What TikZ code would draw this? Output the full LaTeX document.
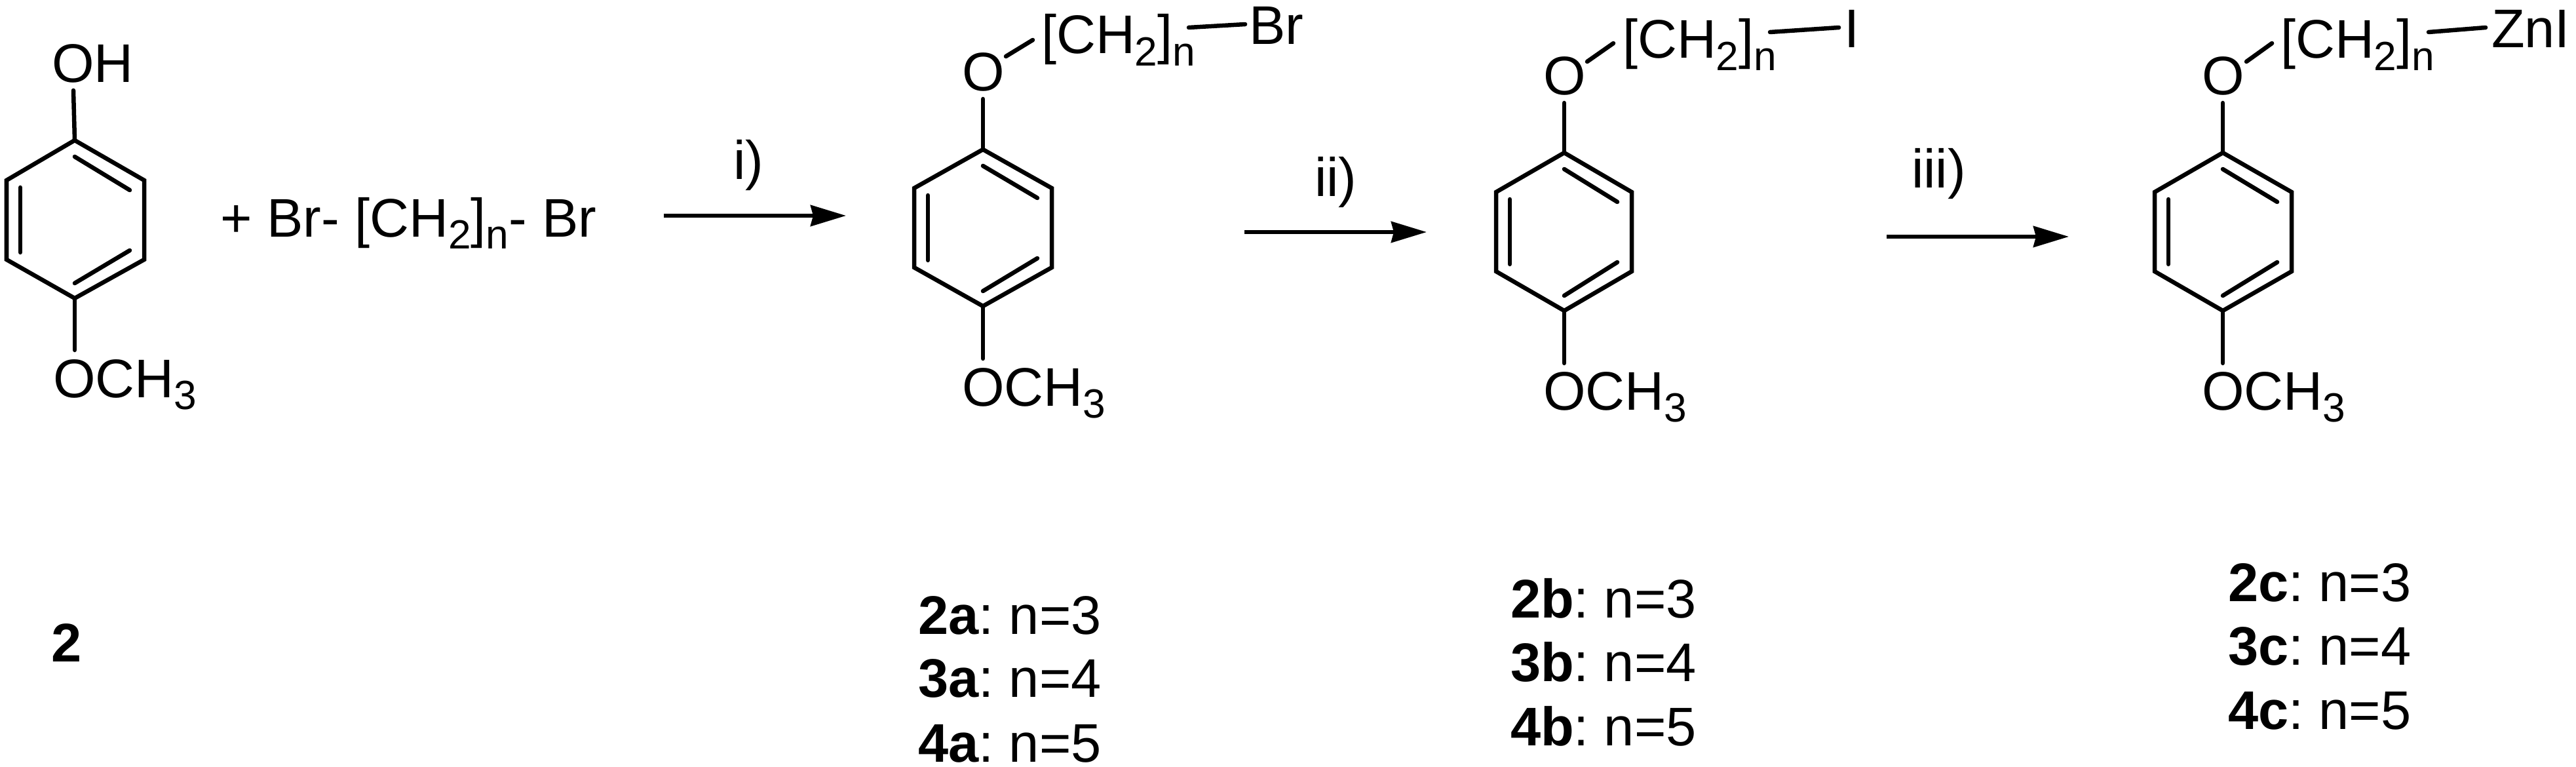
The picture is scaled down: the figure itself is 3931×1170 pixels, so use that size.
\documentclass[tikz,border=0pt]{standalone}
\usepackage{fontspec}
\setmainfont{Liberation Sans}
\frenchspacing
\usetikzlibrary{arrows.meta}
\newcommand{\sbs}[1]{\raisebox{-0.18cm}{\fontsize{17.7}{20}\selectfont #1}}
\newcommand{\chain}{[CH\sbs{2}]\sbs{n}}
\newcommand{\lab}[2]{\textbf{#1}: n=#2}
% prefix, xc, xl, xr, ytop, yu, yl, ybot
\newcommand{\benzene}[8]{%
  \coordinate (#1t) at (#2,#5);
  \coordinate (#1ur) at (#4,#6);
  \coordinate (#1lr) at (#4,#7);
  \coordinate (#1b) at (#2,#8);
  \coordinate (#1ll) at (#3,#7);
  \coordinate (#1ul) at (#3,#6);
  \coordinate (#1ia) at (#2,\the\numexpr#5+25\relax);
  \coordinate (#1ib) at (\the\numexpr#4-22\relax,\the\numexpr#6+15\relax);
  \coordinate (#1ic) at (\the\numexpr#4-22\relax,\the\numexpr#7-14\relax);
  \coordinate (#1id) at (#2,\the\numexpr#8-23\relax);
  \coordinate (#1ie) at (\the\numexpr#3+21\relax,\the\numexpr#6+11\relax);
  \coordinate (#1if) at (\the\numexpr#3+21\relax,\the\numexpr#7-11\relax);
  \draw[ringline] (#1t) -- (#1ur) -- (#1lr) -- (#1b) -- (#1ll) -- (#1ul) -- cycle;
  \draw[bondline] (#1ia) -- (#1ib);
  \draw[bondline] (#1ic) -- (#1id);
  \draw[bondline] (#1ie) -- (#1if);
}
\tikzset{
  ringline/.style={line width=0.065cm,line join=miter,black},
  bondline/.style={line width=0.065cm,line cap=round,black},
  rxnarrow/.style={line width=0.06cm,black,-{Stealth[length=0.54cm,width=0.32cm,inset=0.04cm]}},
  chem/.style={inner sep=0pt,outer sep=0pt,anchor=base west,font=\fontsize{23.6}{28}\selectfont,text=black}
}
\begin{document}
\begin{tikzpicture}[x=0.01cm,y=-0.01cm]
\useasboundingbox[fill=white] (0,0) rectangle (3931,1170);

% compound 2
\benzene{A}{114}{10}{220}{214}{275}{396}{455}
\node[chem] (aOH) at (79,126) {OH};
\node[chem] (aOMe) at (81,606) {OCH\sbs{3}};
\coordinate (aOHend) at (112,138);
\coordinate (aOMeend) at (114,534);
\draw[bondline] (aOHend) -- (At);
\draw[bondline] (Ab) -- (aOMeend);
\node[chem] (reagent) at (336,361) {+ Br- \chain- Br};

% compound a
\benzene{B}{1500}{1395}{1605}{228}{287}{408}{467}
\node[chem] (bO) at (1468,139) {O};
\node[chem] (bCh) at (1589,82) {\chain};
\node[chem] (bBr) at (1906,68) {Br};
\node[chem] (bOMe) at (1468,619) {OCH\sbs{3}};
\coordinate (bOend) at (1500,151);
\coordinate (bMeend) at (1500,547);
\coordinate (bc1) at (1535,86);
\coordinate (bc2) at (1576,61);
\coordinate (bc3) at (1814,42);
\coordinate (bc4) at (1900,37);
\draw[bondline] (bOend) -- (Bt);
\draw[bondline] (Bb) -- (bMeend);
\draw[bondline] (bc1) -- (bc2);
\draw[bondline] (bc3) -- (bc4);

% compound b
\benzene{C}{2387}{2283}{2490}{233}{293}{414}{474}
\node[chem] (cO) at (2355,145) {O};
\node[chem] (cCh) at (2476,89) {\chain};
\node[chem] (cI) at (2814,73) {I};
\node[chem] (cOMe) at (2355,625) {OCH\sbs{3}};
\coordinate (cOend) at (2387,157);
\coordinate (cMeend) at (2387,554);
\coordinate (cc1) at (2422,94);
\coordinate (cc2) at (2462,66);
\coordinate (cc3) at (2701,49);
\coordinate (cc4) at (2806,42);
\draw[bondline] (cOend) -- (Ct);
\draw[bondline] (Cb) -- (cMeend);
\draw[bondline] (cc1) -- (cc2);
\draw[bondline] (cc3) -- (cc4);

% compound c
\benzene{D}{3392}{3288}{3497}{233}{293}{414}{474}
\node[chem] (dO) at (3360,145) {O};
\node[chem] (dCh) at (3480,89) {\chain};
\node[chem] (dZn) at (3802,73) {ZnI};
\node[chem] (dOMe) at (3360,625) {OCH\sbs{3}};
\coordinate (dOend) at (3392,157);
\coordinate (dMeend) at (3392,554);
\coordinate (dc1) at (3428,94);
\coordinate (dc2) at (3467,66);
\coordinate (dc3) at (3706,49);
\coordinate (dc4) at (3793,42);
\draw[bondline] (dOend) -- (Dt);
\draw[bondline] (Db) -- (dMeend);
\draw[bondline] (dc1) -- (dc2);
\draw[bondline] (dc3) -- (dc4);

% arrows
\coordinate (r1s) at (1013,329);
\coordinate (r1e) at (1291,329);
\coordinate (r2s) at (1899,354);
\coordinate (r2e) at (2177,354);
\coordinate (r3s) at (2879,361);
\coordinate (r3e) at (3157,361);
\draw[rxnarrow] (r1s) -- (r1e);
\draw[rxnarrow] (r2s) -- (r2e);
\draw[rxnarrow] (r3s) -- (r3e);
\node[chem] (li) at (1119,273) {i)};
\node[chem] (lii) at (2006,299) {ii)};
\node[chem] (liii) at (2917,286) {iii)};

% labels
\node[chem] (n2) at (78,1009) {\textbf{2}};
\node[chem] (a2) at (1401,967) {\lab{2a}{3}};
\node[chem] (a3) at (1401,1063) {\lab{3a}{4}};
\node[chem] (a4) at (1401,1162) {\lab{4a}{5}};
\node[chem] (b2) at (2305,942) {\lab{2b}{3}};
\node[chem] (b3) at (2305,1039) {\lab{3b}{4}};
\node[chem] (b4) at (2305,1137) {\lab{4b}{5}};
\node[chem] (c2) at (3400,917) {\lab{2c}{3}};
\node[chem] (c3) at (3400,1014) {\lab{3c}{4}};
\node[chem] (c4) at (3400,1112) {\lab{4c}{5}};
\end{tikzpicture}
\end{document}
